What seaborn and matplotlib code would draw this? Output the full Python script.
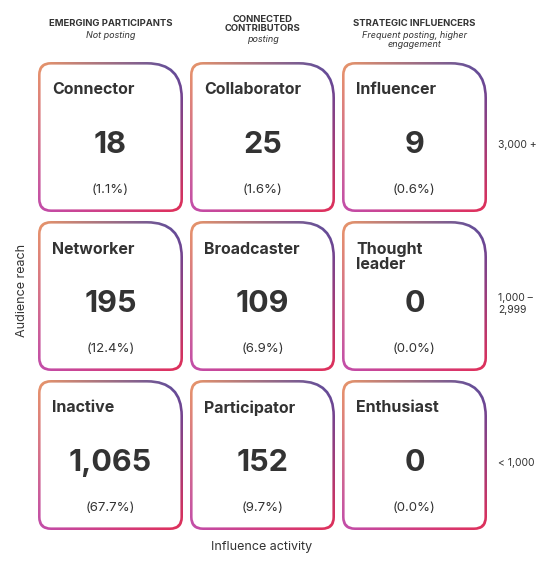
import numpy as np
import matplotlib
matplotlib.use("Agg")
import matplotlib.pyplot as plt
import seaborn as sns
from matplotlib.path import Path
from matplotlib.patches import PathPatch
from matplotlib.colors import to_rgb

sns.set_theme(style="white")
plt.rcParams['font.family'] = ['Inter', 'DejaVu Sans']

col_titles = ["EMERGING PARTICIPANTS", "CONNECTED\nCONTRIBUTORS", "STRATEGIC INFLUENCERS"]
col_subs = ["Not posting", "posting", "Frequent posting, higher\nengagement"]
row_labels = ["3,000 +", "1,000 –\n2,999", "< 1,000"]
names = [["Connector", "Collaborator", "Influencer"],
         ["Networker", "Broadcaster", "Thought\nleader"],
         ["Inactive", "Participator", "Enthusiast"]]
counts = [[18, 25, 9], [195, 109, 0], [1065, 152, 0]]
pcts = [[1.1, 1.6, 0.6], [12.4, 6.9, 0.0], [67.7, 9.7, 0.0]]

corner_cols = {"tl": "#E8956A", "tr": "#574A9E", "bl": "#C24DAA", "br": "#E0305A"}
ink = "#333333"

def box_path(x0, y0, w, h, r, R):
    verts = [(x0 + r, y0), (x0 + w - R, y0), (x0 + w, y0), (x0 + w, y0 + R),
             (x0 + w, y0 + h - r), (x0 + w, y0 + h), (x0 + w - r, y0 + h),
             (x0 + r, y0 + h), (x0, y0 + h), (x0, y0 + h - r),
             (x0, y0 + r), (x0, y0), (x0 + r, y0), (x0 + r, y0)]
    codes = [Path.MOVETO, Path.LINETO, Path.CURVE3, Path.CURVE3,
             Path.LINETO, Path.CURVE3, Path.CURVE3,
             Path.LINETO, Path.CURVE3, Path.CURVE3,
             Path.LINETO, Path.CURVE3, Path.CURVE3, Path.CLOSEPOLY]
    return Path(verts, codes)

n = 60
t = np.linspace(0, 1, n)
u, v = np.meshgrid(t, t)
tl, tr, bl, br = (np.array(to_rgb(corner_cols[k])) for k in ["tl", "tr", "bl", "br"])
grad = ((1 - u) * (1 - v))[..., None] * tl + (u * (1 - v))[..., None] * tr \
    + ((1 - u) * v)[..., None] * bl + (u * v)[..., None] * br

fig = plt.figure(figsize=(5.59, 5.71), dpi=100)
ax = fig.add_axes([0, 0, 1, 1])
ax.set_xlim(0, 559)
ax.set_ylim(571, 0)
ax.axis("off")

W, H, b = 145, 150, 2.6
xs = [38 + 152 * i for i in range(3)]
ys = [62 + 159 * j for j in range(3)]

for j in range(3):
    for i in range(3):
        x0, y0 = xs[i], ys[j]
        outer = PathPatch(box_path(x0, y0, W, H, 13, 36), fc="none", ec="none")
        ax.add_patch(outer)
        im = ax.imshow(grad, extent=(x0, x0 + W, y0 + H, y0), origin="upper",
                       interpolation="bilinear", zorder=1)
        im.set_clip_path(outer)
        ax.add_patch(PathPatch(box_path(x0 + b, y0 + b, W - 2 * b, H - 2 * b, 13 - b, 36 - b),
                               fc="white", ec="none", zorder=2))
        nm = names[j][i]
        ax.text(x0 + 14, y0 + (28 if "\n" not in nm else 36), nm, fontsize=11.5,
                fontweight="bold", color=ink, va="center", ha="left", zorder=3,
                linespacing=1.0)
        ax.text(x0 + W / 2, y0 + 83, f"{counts[j][i]:,}", fontsize=22, fontweight="bold",
                color=ink, ha="center", va="center", zorder=3)
        ax.text(x0 + W / 2, y0 + 128, f"({pcts[j][i]:.1f}%)", fontsize=9.5,
                color=ink, ha="center", va="center", zorder=3)
    ax.text(498, ys[j] + 83, row_labels[j], fontsize=7.5, color=ink, ha="left",
            va="center", linespacing=1.3)

for i in range(3):
    cx = xs[i] + W / 2
    nl = col_titles[i].count("\n")
    ax.text(cx, 24, col_titles[i], fontsize=6.8, fontweight="bold", color=ink,
            ha="center", va="center", linespacing=1.0)
    ax.text(cx, 36 + 4 * nl + 4 * col_subs[i].count("\n"), col_subs[i], fontsize=6.5,
            style="italic", color=ink, ha="center", va="center", linespacing=1.0)

ax.text(22, 290, "Audience reach", fontsize=9, color=ink, rotation=90,
        ha="center", va="center")
ax.text(262, 547, "Influence activity", fontsize=9, color=ink, ha="center", va="center")

fig.savefig("out.png", dpi=100, facecolor="white")
